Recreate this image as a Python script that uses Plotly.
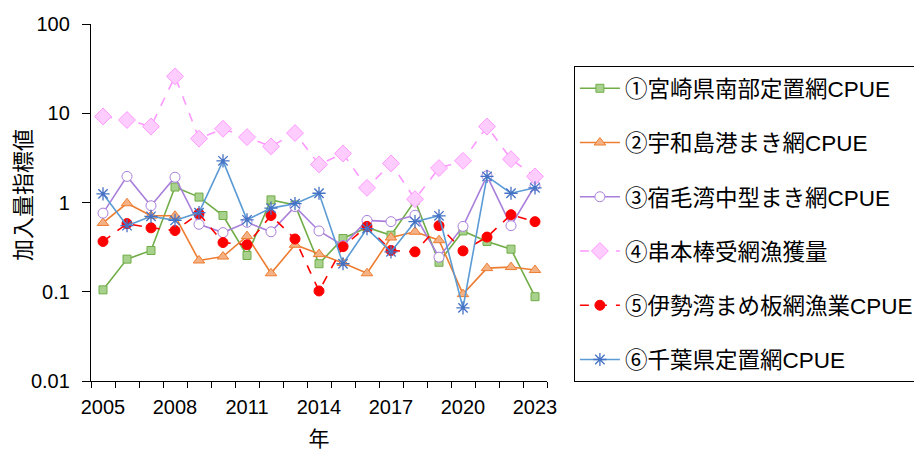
import plotly.graph_objects as go

years = list(range(2005, 2024))

miyazaki = [0.105, 0.232, 0.29, 1.49, 1.15, 0.715, 0.255, 1.07, 0.94, 0.206, 0.395,
            0.525, 0.43, 1.05, 0.214, 0.48, 0.366, 0.30, 0.088]
uwajima = [0.59, 0.98, 0.71, 0.71, 0.224, 0.248, 0.42, 0.161, 0.336, 0.264, 0.21,
           0.161, 0.405, 0.47, 0.378, 0.094, 0.184, 0.189, 0.175]
sukumo = [0.76, 1.96, 0.92, 1.92, 0.57, 0.46, 0.60, 0.47, 0.90, 0.48, 0.33,
          0.63, 0.61, 0.72, 0.244, 0.54, 1.99, 0.55, 1.55]
kushimoto = [9.2, 8.4, 7.1, 25.9, 5.2, 6.7, 5.4, 4.25, 6.0, 2.67, 3.54,
             1.46, 2.74, 1.09, 2.43, 2.93, 7.1, 3.06, 1.96]
isewan = [0.366, 0.58, 0.52, 0.485, 0.75, 0.356, 0.336, 0.715, 0.39, 0.102, 0.32,
          0.54, 0.29, 0.28, 0.55, 0.287, 0.41, 0.73, 0.61]
chiba = [1.25, 0.55, 0.70, 0.63, 0.77, 2.93, 0.64, 0.865, 0.97, 1.27, 0.206,
         0.51, 0.28, 0.61, 0.71, 0.066, 1.96, 1.27, 1.46]

labels = ["①宮崎県南部定置網CPUE", "②宇和島港まき網CPUE", "③宿毛湾中型まき網CPUE",
          "④串本棒受網漁獲量", "⑤伊勢湾まめ板網漁業CPUE", "⑥千葉県定置網CPUE"]
x_ticks = [2005, 2008, 2011, 2014, 2017, 2020, 2023]
y_title = "加入量指標値"

FONT = "Liberation Sans, Arial, Noto Sans CJK JP"

styles = [
    dict(line=dict(color="#70AD47", width=1.6),
         marker=dict(symbol="square", size=8, color="#A9D18E",
                     line=dict(color="#70AD47", width=1))),
    dict(line=dict(color="#ED7D31", width=1.6),
         marker=dict(symbol="triangle-up", size=10, color="#F4B183",
                     line=dict(color="#ED7D31", width=1))),
    dict(line=dict(color="#A97FDB", width=1.6),
         marker=dict(symbol="circle", size=10, color="white",
                     line=dict(color="#A97FDB", width=1))),
    dict(line=dict(color="#FF99FF", width=1.6, dash="dash"),
         marker=dict(symbol="diamond", size=13, color="#FFCCFF",
                     line=dict(color="#FF99FF", width=1))),
    dict(line=dict(color="#FF0000", width=1.6, dash="dash"),
         marker=dict(symbol="circle", size=10, color="#FF0000",
                     line=dict(color="#FF0000", width=1))),
    dict(line=dict(color="#5B9BD5", width=1.6),
         marker=dict(symbol="asterisk-open", size=11, color="#4472C4",
                     line=dict(color="#4472C4", width=1.3))),
]

series = [miyazaki, uwajima, sukumo, kushimoto, isewan, chiba]

fig = go.Figure()
for i, (vals, name, st) in enumerate(zip(series, labels, styles)):
    fig.add_trace(go.Scatter(x=years, y=vals, name=name, mode="lines+markers",
                             legendgroup=f"g{i}", **st))

# vertical y-axis title placed close to the tick labels
fig.add_annotation(text=y_title, xref="paper", yref="paper",
                   x=-0.149, y=0.521, xanchor="center", yanchor="middle",
                   textangle=-90, showarrow=False, font=dict(size=22))

fig.update_layout(
    width=914, height=450,
    margin=dict(l=91, r=367, t=24, b=69, autoexpand=False),
    plot_bgcolor="white", paper_bgcolor="white",
    font=dict(family=FONT, size=20, color="black"),
    showlegend=True,
    legend=dict(x=1.059, y=0.882, xanchor="left", yanchor="top",
                bordercolor="black", borderwidth=1,
                font=dict(size=22.5), tracegroupgap=22,
                itemwidth=40, traceorder="grouped",
                entrywidthmode="pixels", entrywidth=300),
    xaxis=dict(range=[2004.5, 2023.5], tickvals=x_ticks,
               ticktext=[str(v) for v in x_ticks], ticks="",
               ticklabelstandoff=8, automargin=False,
               showline=True, linecolor="black", linewidth=1.3,
               showgrid=False, zeroline=False,
               minor=dict(tickvals=[y - 0.5 for y in years] + [2023.5],
                          ticks="outside", ticklen=6, tickcolor="black",
                          showgrid=False),
               title=dict(text="年", standoff=14, font=dict(size=21))),
    yaxis=dict(type="log", range=[-2, 2],
               tickvals=[0.01, 0.1, 1, 10, 100],
               ticktext=["0.01", "0.1", "1", "10", "100"],
               ticks="outside", ticklen=8, tickcolor="black",
               ticklabelstandoff=8, automargin=False,
               showline=True, linecolor="black", linewidth=1.3,
               showgrid=False, zeroline=False),
)

fig.write_html("out.html")
